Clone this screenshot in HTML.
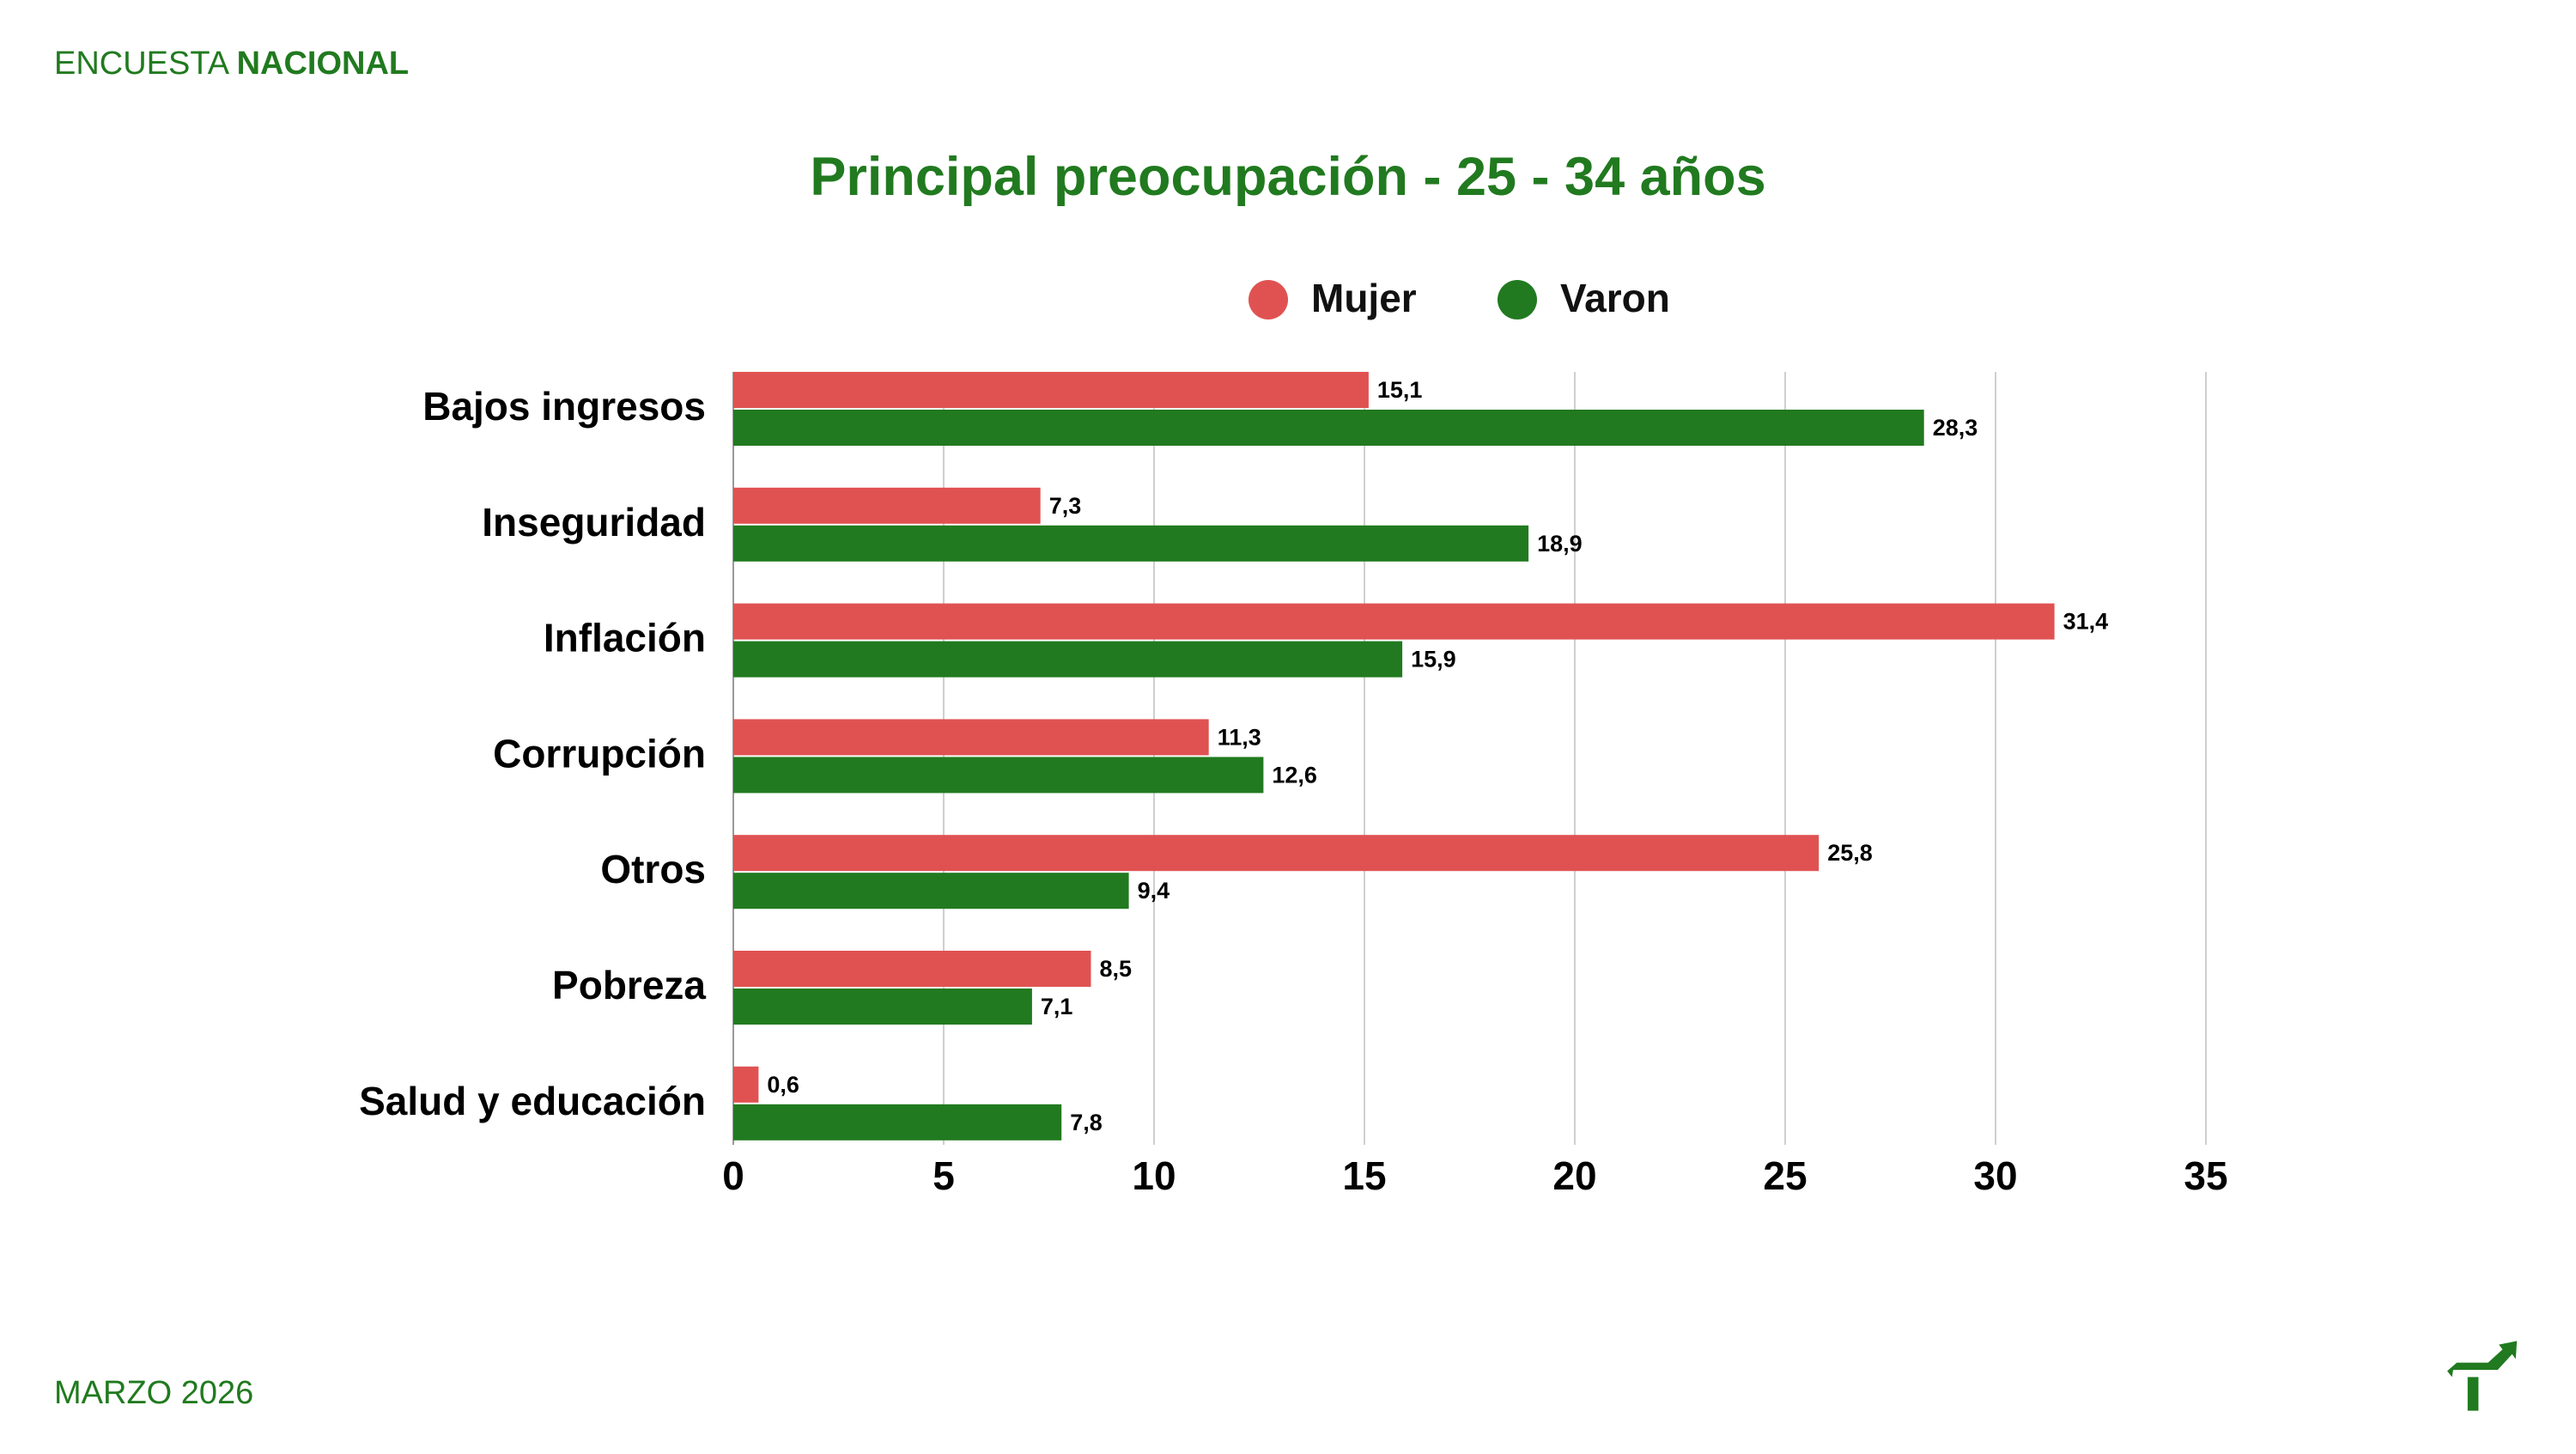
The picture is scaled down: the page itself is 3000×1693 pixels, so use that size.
<!DOCTYPE html>
<html><head><meta charset="utf-8"><style>
body{margin:0;width:3000px;height:1688px;background:#fff;overflow:hidden;font-family:"Liberation Sans",sans-serif;position:relative;}
</style></head><body>
<svg width="3000" height="1688" xmlns="http://www.w3.org/2000/svg" font-family="Liberation Sans, sans-serif">
<text x="63" y="86" font-size="38" fill="#217a1f">ENCUESTA <tspan font-weight="bold">NACIONAL</tspan></text>
<text x="63" y="1634" font-size="38" fill="#217a1f">MARZO 2026</text>
<text x="1500" y="227" font-size="63" font-weight="bold" fill="#217a1f" text-anchor="middle">Principal preocupación - 25 - 34 años</text>
<circle cx="1477" cy="349" r="23" fill="#e05252"/>
<text x="1527" y="363" font-size="46" font-weight="bold" fill="#111">Mujer</text>
<circle cx="1767" cy="349" r="23" fill="#217a1f"/>
<text x="1817" y="363" font-size="46" font-weight="bold" fill="#111">Varon</text>
<g id="grid" stroke="#cfcfcf" stroke-width="2"></g>
<line x1="854" y1="433" x2="854" y2="1333" stroke="#999" stroke-width="2"/>
<g id="ticks" font-size="46" font-weight="bold" fill="#000" text-anchor="middle"></g>
<g id="rows"></g>
</svg>
<script>
var x0=854,u=49.0,top0=433,per=134.8;
var gr="",tk="";
for(var v=0;v<=35;v+=5){var x=x0+v*u;if(v>0)gr+='<line x1="'+x+'" y1="433" x2="'+x+'" y2="1333"/>';tk+='<text x="'+x+'" y="1385">'+v+'</text>';}
document.getElementById("grid").innerHTML=gr;document.getElementById("ticks").innerHTML=tk;
var d=[["Bajos ingresos",15.1,28.3],["Inseguridad",7.3,18.9],["Inflación",31.4,15.9],["Corrupción",11.3,12.6],["Otros",25.8,9.4],["Pobreza",8.5,7.1],["Salud y educación",0.6,7.8]];
var h="";
d.forEach(function(r,i){var y=top0+i*per;
h+='<text x="822" y="'+(y+56)+'" font-size="46" font-weight="bold" text-anchor="end" fill="#000">'+r[0]+'</text>';
h+='<rect x="'+x0+'" y="'+y+'" width="'+r[1]*u+'" height="42" fill="#e05252"/>';
h+='<rect x="'+x0+'" y="'+(y+44)+'" width="'+r[2]*u+'" height="42" fill="#217a1f"/>';
h+='<text x="'+(x0+10+r[1]*u)+'" y="'+(y+30)+'" font-size="27" font-weight="bold" fill="#000">'+String(r[1]).replace(".",",")+'</text>';
h+='<text x="'+(x0+10+r[2]*u)+'" y="'+(y+74)+'" font-size="27" font-weight="bold" fill="#000">'+String(r[2]).replace(".",",")+'</text>';});
document.getElementById("rows").innerHTML=h;
</script>
<svg style="position:absolute;left:2850px;top:1560px" width="84" height="84" viewBox="0 0 60 60">
<polygon points="0,26 8,19 34,19 46,8 43,4 58,1 57,16 54,12 42,25 5,25 4,31" fill="#217a1f"/>
<rect x="17" y="31" width="9" height="28" fill="#217a1f"/>
</svg>
</body></html>
